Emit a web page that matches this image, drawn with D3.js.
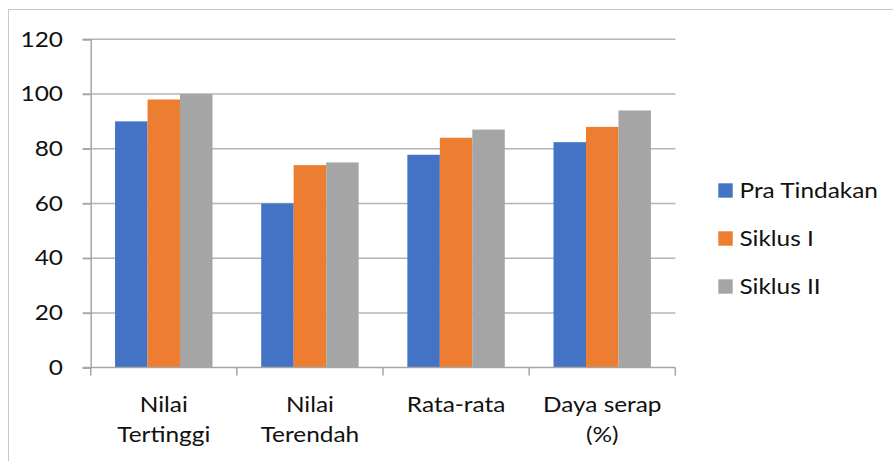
<!DOCTYPE html>
<html>
<head>
<meta charset="utf-8">
<script src="https://cdn.jsdelivr.net/npm/d3@7/dist/d3.min.js"></script>
<style>
  html, body { margin: 0; padding: 0; background: #fff; }
  svg { display: block; }
  text { font-family: Lato, "Open Sans", sans-serif; fill: #111; }
</style>
</head>
<body>
<svg id="chart" width="893" height="461"></svg>
<script>
// Category labels (each entry is split over lines)
const categories = [
  ["Nilai", "Tertinggi"],
  ["Nilai", "Terendah"],
  ["Rata-rata"],
  ["Daya serap", "(%)"]
];
const seriesNames = ["Pra Tindakan", "Siklus I", "Siklus II"];
const praTindakan = [90, 60, 77.8, 82.4];
const siklusI = [98, 74, 84, 88];
const siklusII = [100, 75, 87, 94];
const yTicks = [0, 20, 40, 60, 80, 100, 120];
const colors = ["#4472C4", "#ED7D31", "#A5A5A5"];

const series = [praTindakan, siklusI, siklusII];
const FONT = 20.5;   // px
const SX = 1.19;     // horizontal stretch of the label face

const svg = d3.select("#chart");
const W = 893, H = 461;

// Places a text at (x, y) with a horizontally widened face
function label(parent, x, y, str, anchor) {
  return parent.append("text")
    .attr("transform", `translate(${x},${y}) scale(${SX},1)`)
    .attr("text-anchor", anchor || "start")
    .style("font-size", FONT + "px")
    .text(str);
}

// Outer chart frame
svg.append("rect")
  .attr("x", 8.5).attr("y", 9.5)
  .attr("width", W + 10).attr("height", H + 10)
  .attr("fill", "none").attr("stroke", "#c8c8c8").attr("stroke-width", 1);

const plot = { left: 90.7, right: 675.3, top: 39.3, bottom: 367.6 };

const x = d3.scaleBand()
  .domain(d3.range(categories.length))
  .range([plot.left, plot.right])
  .paddingInner(0).paddingOuter(0);

const y = d3.scaleLinear().domain([0, 120]).range([plot.bottom, plot.top]);

// Bars: three per category, gap width 150% of a bar
const barW = x.bandwidth() / 4.5;
const groupOffset = barW * 0.75;

// Gridlines
svg.append("g")
  .selectAll("line")
  .data(yTicks.filter(d => d > 0))
  .join("line")
  .attr("x1", plot.left - 8).attr("x2", plot.right)
  .attr("y1", d => y(d)).attr("y2", d => y(d))
  .attr("stroke", "#b4b4b4").attr("stroke-width", 1.5);

series.forEach((vals, si) => {
  svg.append("g")
    .selectAll("rect")
    .data(vals)
    .join("rect")
    .attr("x", (d, i) => x(i) + groupOffset + si * barW)
    .attr("y", d => y(d))
    .attr("width", barW)
    .attr("height", d => y(0) - y(d))
    .attr("fill", colors[si]);
});

// Y axis line with ticks
const yAxis = d3.axisLeft(y).tickValues(yTicks).tickSize(8).tickFormat("");
const gy = svg.append("g").attr("transform", `translate(${plot.left},0)`).call(yAxis);
gy.select(".domain").attr("stroke", "#a6a6a6").attr("stroke-width", 1.5);
gy.selectAll(".tick line").attr("stroke", "#a6a6a6").attr("stroke-width", 1.5);

// Y tick labels
const yl = svg.append("g");
yTicks.forEach(v => label(yl, 63, y(v) + 7.3, d3.format("d")(v), "end"));

// X axis baseline and category dividers
const xg = svg.append("g");
xg.append("line")
  .attr("x1", plot.left - 8).attr("x2", plot.right)
  .attr("y1", y(0)).attr("y2", y(0))
  .attr("stroke", "#a6a6a6").attr("stroke-width", 1.5);
const bounds = d3.range(categories.length + 1).map(i => i < categories.length ? x(i) : x(i - 1) + x.bandwidth());
xg.selectAll("line.div")
  .data(bounds)
  .join("line")
  .attr("class", "div")
  .attr("x1", d => d).attr("x2", d => d)
  .attr("y1", y(0)).attr("y2", y(0) + 8)
  .attr("stroke", "#a6a6a6").attr("stroke-width", 1.5);

// Category labels
const cl = svg.append("g");
categories.forEach((lines, i) => {
  lines.forEach((ln, j) => {
    label(cl, x(i) + x.bandwidth() / 2, 412 + j * 30, ln, "middle");
  });
});

// Legend
const legend = svg.append("g");
seriesNames.forEach((name, i) => {
  const cy = 190.5 + i * 48;
  legend.append("rect")
    .attr("x", 718.3).attr("y", cy - 7.2)
    .attr("width", 14.4).attr("height", 14.4)
    .attr("fill", colors[i]);
  label(legend, 739.5, cy + 7, name, "start");
});
</script>
</body>
</html>
